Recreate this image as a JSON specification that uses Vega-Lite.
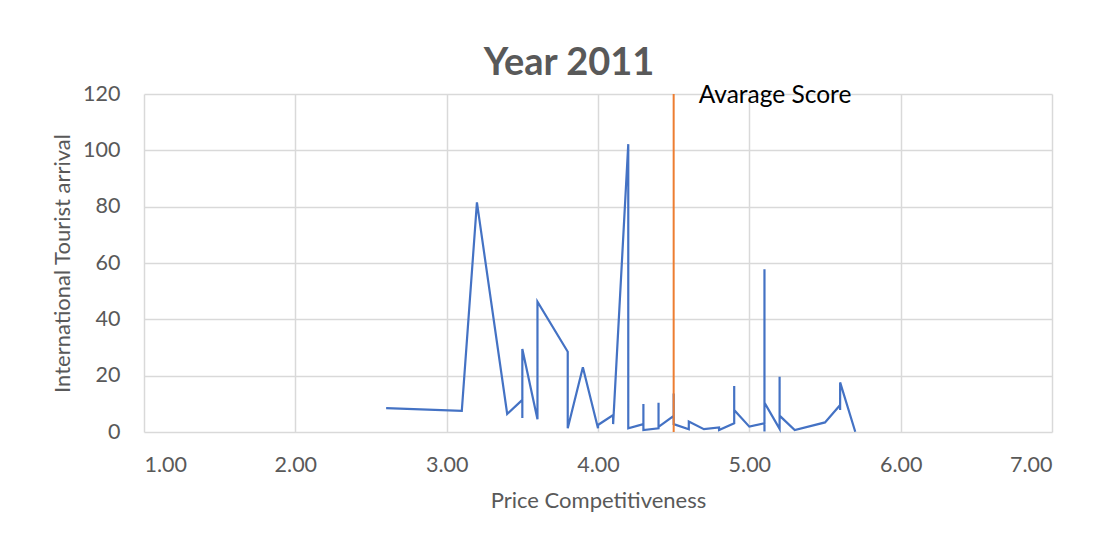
{
  "$schema": "https://vega.github.io/schema/vega-lite/v6.json",
  "width": 908,
  "height": 338,
  "autosize": {"type": "none"},
  "padding": {"left": 144, "top": 94, "right": 63, "bottom": 102},
  "background": "white",
  "config": {
    "font": "Lato",
    "view": {"stroke": null},
    "axis": {"gridColor": "#d9d9d9", "gridWidth": 1.5, "domain": false, "ticks": false, "labelColor": "#595959", "titleColor": "#595959", "labelFontSize": 21.5, "titleFontSize": 22, "labelFont": "Lato", "titleFont": "Lato", "titleFontWeight": "normal"}
  },
  "title": {"text": "Year 2011", "fontSize": 38, "fontWeight": "bold", "color": "#595959", "font": "Lato", "anchor": "middle", "dx": -29, "dy": 51, "baseline": "alphabetic", "offset": 21},
  "datasets": {
    "series": [
      {"i": 1, "pc": 2.6, "arr": 8.5},
      {"i": 2, "pc": 3.1, "arr": 7.5},
      {"i": 3, "pc": 3.2, "arr": 81.5},
      {"i": 4, "pc": 3.4, "arr": 6.4},
      {"i": 5, "pc": 3.5, "arr": 11.4},
      {"i": 6, "pc": 3.5, "arr": 5.0},
      {"i": 7, "pc": 3.5, "arr": 29.5},
      {"i": 8, "pc": 3.6, "arr": 4.5},
      {"i": 9, "pc": 3.6, "arr": 46.3},
      {"i": 10, "pc": 3.8, "arr": 28.5},
      {"i": 11, "pc": 3.8, "arr": 1.3},
      {"i": 12, "pc": 3.9, "arr": 23.0},
      {"i": 13, "pc": 4.0, "arr": 1.3},
      {"i": 14, "pc": 4.0, "arr": 2.5},
      {"i": 15, "pc": 4.1, "arr": 6.0},
      {"i": 16, "pc": 4.1, "arr": 2.8},
      {"i": 17, "pc": 4.2, "arr": 102.2},
      {"i": 18, "pc": 4.2, "arr": 63.0},
      {"i": 19, "pc": 4.2, "arr": 1.3},
      {"i": 20, "pc": 4.3, "arr": 2.8},
      {"i": 21, "pc": 4.3, "arr": 9.9},
      {"i": 22, "pc": 4.3, "arr": 0.7},
      {"i": 23, "pc": 4.4, "arr": 1.3},
      {"i": 24, "pc": 4.4, "arr": 10.4},
      {"i": 25, "pc": 4.4, "arr": 1.8},
      {"i": 26, "pc": 4.5, "arr": 5.7},
      {"i": 27, "pc": 4.5, "arr": 13.7},
      {"i": 28, "pc": 4.5, "arr": 2.8},
      {"i": 29, "pc": 4.6, "arr": 1.0},
      {"i": 30, "pc": 4.6, "arr": 3.7},
      {"i": 31, "pc": 4.7, "arr": 1.0},
      {"i": 32, "pc": 4.8, "arr": 1.6},
      {"i": 33, "pc": 4.8, "arr": 0.7},
      {"i": 34, "pc": 4.9, "arr": 3.1},
      {"i": 35, "pc": 4.9, "arr": 16.3},
      {"i": 36, "pc": 4.9, "arr": 7.8},
      {"i": 37, "pc": 5.0, "arr": 1.9},
      {"i": 38, "pc": 5.1, "arr": 3.1},
      {"i": 39, "pc": 5.1, "arr": 57.8},
      {"i": 40, "pc": 5.1, "arr": 0.2},
      {"i": 41, "pc": 5.1, "arr": 10.4},
      {"i": 42, "pc": 5.2, "arr": 1.1},
      {"i": 43, "pc": 5.2, "arr": 19.6},
      {"i": 44, "pc": 5.2, "arr": 5.8},
      {"i": 45, "pc": 5.3, "arr": 0.7},
      {"i": 46, "pc": 5.5, "arr": 3.4},
      {"i": 47, "pc": 5.6, "arr": 9.6},
      {"i": 48, "pc": 5.6, "arr": 7.8},
      {"i": 49, "pc": 5.6, "arr": 17.6},
      {"i": 50, "pc": 5.7, "arr": 0.1}
    ],
    "avg": [
      {"pc": 4.5, "arr": 0, "label": "Avarage Score"},
      {"pc": 4.5, "arr": 120, "label": "Avarage Score"}
    ]
  },
  "layer": [
    {
      "data": {"name": "series"},
      "mark": {"type": "line", "color": "#4472C4", "strokeWidth": 2.2},
      "encoding": {
        "x": {"field": "pc", "type": "quantitative", "scale": {"domain": [1, 7], "nice": false}, "axis": {"values": [1, 2, 3, 4, 5, 6, 7], "format": ".2f", "labelPadding": 22, "title": "Price Competitiveness", "titlePadding": 15}},
        "y": {"field": "arr", "type": "quantitative", "scale": {"domain": [0, 120], "nice": false}, "axis": {"values": [0, 20, 40, 60, 80, 100, 120], "labelPadding": 24, "title": "International Tourist arrival", "titlePadding": 8}},
        "order": {"field": "i", "type": "quantitative"}
      }
    },
    {
      "data": {"name": "avg"},
      "mark": {"type": "line", "color": "#ED7D31", "strokeWidth": 2},
      "encoding": {
        "x": {"field": "pc", "type": "quantitative"},
        "y": {"field": "arr", "type": "quantitative"}
      }
    },
    {
      "data": {"name": "avg"},
      "transform": [{"filter": "datum.arr == 120"}],
      "mark": {"type": "text", "align": "left", "baseline": "middle", "dx": 25, "dy": 2, "fontSize": 24.5, "color": "#000000", "font": "Lato"},
      "encoding": {
        "x": {"field": "pc", "type": "quantitative"},
        "y": {"field": "arr", "type": "quantitative"},
        "text": {"field": "label"}
      }
    }
  ]
}
